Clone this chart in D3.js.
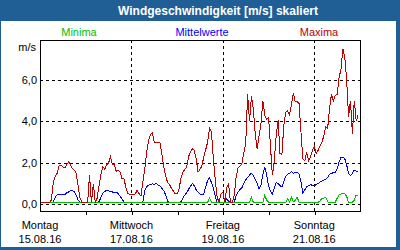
<!DOCTYPE html>
<html lang="de">
  <head>
    <meta charset="UTF-8" />
    <title>Windgeschwindigkeit</title>
    <script src="https://d3js.org/d3.v7.min.js"></script>
    <style>
      body { margin: 0; }
      text { font-family: "Liberation Sans", Arial, sans-serif; font-size: 11px; }
    </style>
  </head>
  <body>
    <svg id="chart" width="400" height="250"></svg>
    <script>
      // hourly values from 15.08.16 00:00
      const startDate = new Date(2016, 7, 15);
      const endDate = new Date(2016, 7, 22);

      const maxima = [
        0.1,0.1,0.1,0.1,0.1,0.1,0.2,1.1,1.33,1.5,1.85,1.9,
        1.8,1.75,1.9,2.05,1.9,1.73,1.65,1.5,0.9,0.3,0.1,0.1,
        0.1,0.1,1.4,0.1,1.0,0.1,0.3,0.92,1.45,1.8,1.7,1.9,
        2.0,2.29,1.9,1.95,1.6,1.62,1.58,1.25,1.27,0.85,0.52,0.49,
        0.49,0.49,0.5,0.68,0.52,0.4,1.1,1.7,2.5,3.1,3.38,3.45,
        3.0,2.96,3.0,2.96,2.4,1.8,1.35,1.05,0.95,0.77,0.65,0.5,
        0.5,0.75,1.25,1.55,1.68,1.8,2.29,2.55,2.67,2.6,2.2,1.55,
        1.7,1.85,2.3,2.63,3.0,3.66,3.5,2.2,1.2,0.35,0.1,0.5,
        0.6,0.1,0.8,1.0,0.1,0.1,0.45,1.35,1.75,1.85,1.95,2.5,
        2.9,5.3,4.0,5.2,4.6,3.4,2.65,3.3,3.9,5.0,4.3,4.1,
        4.2,2.8,1.4,2.1,3.3,4.06,2.46,2.4,3.8,4.45,4.5,4.3,
        4.8,5.37,4.94,4.94,4.85,3.5,2.2,2.1,2.5,2.1,2.3,2.6,
        2.8,2.45,2.6,2.82,3.0,3.3,3.73,3.65,4.6,5.3,5.0,5.25,
        5.3,6.1,6.5,7.5,7.1,6.0,4.2,5.0,3.4,5.0,4.0,4.3
      ];

      const mittelwerte = [
        0.1,0.1,0.1,0.1,0.1,0.1,0.1,0.12,0.35,0.45,0.49,0.49,
        0.5,0.45,0.55,0.6,0.65,0.68,0.6,0.45,0.2,0.1,0.1,0.1,
        0.1,0.1,0.1,0.1,0.1,0.1,0.1,0.12,0.35,0.55,0.62,0.68,
        0.67,0.6,0.6,0.55,0.6,0.52,0.4,0.27,0.12,0.1,0.1,0.1,
        0.1,0.1,0.1,0.1,0.1,0.1,0.1,0.68,0.85,0.92,0.95,1.0,
        0.95,1.02,0.92,0.9,0.77,0.65,0.45,0.15,0.1,0.1,0.1,0.1,
        0.1,0.1,0.12,0.3,0.45,0.55,0.72,0.88,1.0,0.9,0.7,0.6,
        0.5,0.45,0.5,0.85,1.15,1.29,1.05,0.8,0.4,0.1,0.1,0.1,
        0.1,0.1,0.27,0.15,0.1,0.1,0.1,0.45,0.6,0.72,0.8,1.0,
        1.17,1.3,1.41,1.5,1.4,1.2,1.0,0.75,0.9,1.45,1.81,1.4,
        0.9,0.65,0.5,0.8,1.05,1.0,0.9,0.85,1.1,1.35,1.45,1.5,
        1.57,1.5,1.55,1.55,1.45,1.1,0.55,0.7,0.85,0.9,0.95,0.92,
        0.9,0.95,1.0,1.08,1.12,1.17,1.2,1.3,1.45,1.5,1.52,1.55,
        1.7,2.05,2.25,2.28,2.2,1.9,1.5,1.38,1.5,1.65,1.6,1.55
      ];

      const minima = [
        0.1,0.1,0.1,0.1,0.1,0.1,0.1,0.1,0.1,0.1,0.1,0.1,
        0.1,0.1,0.1,0.1,0.1,0.1,0.1,0.1,0.1,0.1,0.1,0.1,
        0.1,0.1,0.1,0.1,0.1,0.1,0.1,0.1,0.1,0.1,0.1,0.1,
        0.1,0.1,0.1,0.1,0.1,0.1,0.1,0.1,0.1,0.1,0.1,0.1,
        0.1,0.1,0.1,0.1,0.1,0.1,0.1,0.1,0.1,0.1,0.1,0.1,
        0.1,0.1,0.1,0.1,0.1,0.1,0.1,0.1,0.1,0.1,0.1,0.1,
        0.1,0.1,0.1,0.1,0.1,0.1,0.1,0.1,0.1,0.1,0.1,0.1,
        0.1,0.1,0.1,0.1,0.1,0.3,0.1,0.1,0.1,0.1,0.1,0.1,
        0.1,0.1,0.1,0.1,0.1,0.1,0.1,0.1,0.1,0.1,0.1,0.1,
        0.1,0.1,0.1,0.35,0.1,0.1,0.1,0.1,0.1,0.1,0.45,0.2,
        0.1,0.1,0.1,0.1,0.1,0.1,0.1,0.1,0.1,0.1,0.27,0.12,
        0.35,0.12,0.2,0.35,0.1,0.1,0.1,0.1,0.1,0.1,0.1,0.1,
        0.1,0.1,0.1,0.15,0.3,0.3,0.35,0.12,0.1,0.1,0.1,0.1,
        0.3,0.45,0.5,0.52,0.5,0.38,0.1,0.1,0.1,0.2,0.45,0.4
      ];

      const yTicks = [0, 2, 4, 6];
      const dayLabels = ["Montag", "Mittwoch", "Freitag", "Sonntag"];
      const dateLabels = ["15.08.16", "17.08.16", "19.08.16", "21.08.16"];
      const labelDays = [15, 17, 19, 21];
      const gridDays = [17, 19, 21];

      const svg = d3.select("#chart");
      const frameBlue = "#1f5f96";

      svg.append("rect").attr("width", 400).attr("height", 250).attr("fill", frameBlue);
      svg.append("rect").attr("x", 1).attr("y", 21).attr("width", 395).attr("height", 226).attr("fill", "#fff");
      svg.append("text")
        .attr("x", 218).attr("y", 15)
        .attr("text-anchor", "middle")
        .attr("fill", "#fff")
        .style("font-weight", "bold").style("font-size", "12px")
        .text("Windgeschwindigkeit [m/s] skaliert");

      const plotLeft = 40, plotRight = 360, plotTop = 40, plotBottom = 211;
      const x = d3.scaleTime().domain([startDate, endDate]).range([plotLeft, plotRight]);
      const y = d3.scaleLinear().domain([-0.32, 7.92]).range([plotBottom, plotTop]);

      const hour = (i) => d3.timeHour.offset(startDate, i);
      const px = (v) => Math.round(v) + 0.5;

      // grid
      const grid = svg.append("g").attr("stroke", "#000").attr("stroke-dasharray", "3,3").attr("shape-rendering", "crispEdges");
      grid.selectAll("line.h").data(yTicks).join("line")
        .attr("x1", plotLeft).attr("x2", plotRight)
        .attr("y1", (d) => px(y(d))).attr("y2", (d) => px(y(d)));
      grid.selectAll("line.v").data(gridDays).join("line")
        .attr("x1", (d) => px(x(new Date(2016, 7, d)))).attr("x2", (d) => px(x(new Date(2016, 7, d))))
        .attr("y1", plotTop).attr("y2", plotBottom);

      // bottom ticks
      const xAxis = d3.axisBottom(x)
        .tickValues(d3.timeDay.range(d3.timeDay.offset(startDate, 1), endDate))
        .tickSize(3).tickFormat("");
      const gx = svg.append("g").attr("transform", `translate(0.5,${plotBottom + 0.5})`).call(xAxis);
      gx.select(".domain").remove();
      gx.selectAll("line").attr("shape-rendering", "crispEdges");

      const lineGen = (vals) => d3.line()
        .x((d, i) => x(hour(i)))
        .y((d) => y(d))(vals);

      const series = [
        { vals: mittelwerte, color: "#0000ff" },
        { vals: minima, color: "#00c000" },
        { vals: maxima, color: "#c00000" },
      ];
      svg.append("g").selectAll("path").data(series).join("path")
        .attr("d", (d) => lineGen(d.vals))
        .attr("fill", "none")
        .attr("stroke", (d) => d.color)
        .attr("stroke-width", 1)
        .attr("shape-rendering", "crispEdges");

      // frame
      svg.append("rect")
        .attr("x", plotLeft + 0.5).attr("y", plotTop + 0.5)
        .attr("width", plotRight - plotLeft).attr("height", plotBottom - plotTop)
        .attr("fill", "none").attr("stroke", "#000")
        .attr("shape-rendering", "crispEdges");

      // y labels
      svg.selectAll("text.ylab").data(yTicks).join("text")
        .attr("class", "ylab")
        .attr("x", 37).attr("y", (d) => y(d) + 4)
        .attr("text-anchor", "end")
        .text((d) => d3.format(".1f")(d).replace(".", ","));
      svg.append("text").attr("x", 36).attr("y", 51).attr("text-anchor", "end").text("m/s");

      // x labels
      svg.selectAll("text.day").data(labelDays).join("text")
        .attr("class", "day")
        .attr("x", (d) => x(new Date(2016, 7, d)))
        .attr("y", 229)
        .attr("text-anchor", "middle")
        .text((d, i) => dayLabels[i]);
      svg.selectAll("text.date").data(labelDays).join("text")
        .attr("class", "date")
        .attr("x", (d) => x(new Date(2016, 7, d)))
        .attr("y", 243)
        .attr("text-anchor", "middle")
        .text((d, i) => dateLabels[i]);

      // legend
      const legend = [
        { name: "Minima", color: "#00c000", cx: 79 },
        { name: "Mittelwerte", color: "#0000ff", cx: 202 },
        { name: "Maxima", color: "#c00000", cx: 319 },
      ];
      svg.selectAll("text.leg").data(legend).join("text")
        .attr("class", "leg")
        .attr("x", (d) => d.cx).attr("y", 36)
        .attr("text-anchor", "middle")
        .attr("fill", (d) => d.color)
        .text((d) => d.name);
    </script>
  </body>
</html>
